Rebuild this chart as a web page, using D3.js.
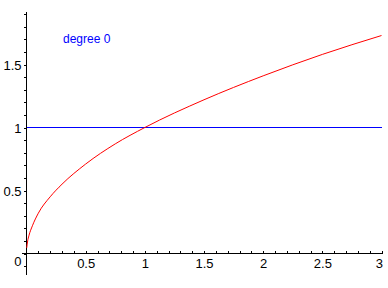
<!DOCTYPE html>
<html>
<head>
<meta charset="utf-8">
<script src="https://cdn.jsdelivr.net/npm/d3@7"></script>
<style>
  body { margin: 0; background: #fff; }
  text { font-family: "Liberation Sans", Arial, sans-serif; }
</style>
</head>
<body>
<div id="chart"></div>
<script>
// values
const curveX = [0.002, 0.01, 0.02, 0.05, 0.1, 0.2, 0.3, 0.5, 0.75, 1, 1.5, 2, 2.5, 3];
const curveY = [0.045, 0.1, 0.14, 0.22, 0.32, 0.45, 0.55, 0.71, 0.87, 1, 1.22, 1.41, 1.58, 1.73];
const constLine = [1, 1];          // degree 0 approximation
const constX = [0, 3];
const xLabels = [0.5, 1, 1.5, 2, 2.5, 3];
const yLabels = [0, 0.5, 1, 1.5];
const xMinor = d3.range(1, 31).map(d => d / 10);
const yMinor = d3.range(-1, 20).map(d => d / 10);

const width = 388;
const height = 288;

const svg = d3.select("#chart")
    .append("svg")
    .attr("width", width)
    .attr("height", height);

const x = d3.scaleLinear().domain([0, 3]).range([26.5, 381.5]);
const y = d3.scaleLinear().domain([0, 1]).range([253.5, 127.5]);

// x axis: ticks pointing up, labels below
const xAxis = svg.append("g")
    .attr("transform", `translate(0,${y(0)})`)
    .attr("shape-rendering", "crispEdges")
    .call(d3.axisTop(x).tickValues(xMinor).tickSize(3).tickSizeOuter(0).tickFormat(""));
xAxis.select(".domain").attr("d", `M${x(-0.04)},0H${x(3)}`);

svg.append("g")
    .attr("transform", `translate(0,${y(0) + 5})`)
    .call(d3.axisBottom(x).tickValues(xLabels).tickSize(0).tickFormat(d3.format("")))
    .call(g => g.select(".domain").remove())
    .call(g => g.selectAll("text")
        .attr("font-size", 13)
        .attr("font-family", "Liberation Sans, Arial, sans-serif")
        .attr("dy", "0.71em")
        .attr("y", 0)
        .attr("text-anchor", d => d === 3 ? "end" : "middle")
        .attr("dx", d => d === 3 ? 1 : 0));

// y axis: ticks pointing left
const yAxis = svg.append("g")
    .attr("transform", `translate(${x(0)},0)`)
    .attr("shape-rendering", "crispEdges")
    .call(d3.axisLeft(y).tickValues(yMinor).tickSize(3).tickSizeOuter(0).tickFormat(""));
yAxis.select(".domain").attr("d", `M0,${y(-0.17)}V${y(1.917)}`);

svg.append("g")
    .attr("transform", `translate(${x(0) - 5},0)`)
    .call(d3.axisLeft(y).tickValues(yLabels).tickSize(0).tickFormat(d3.format("")))
    .call(g => g.select(".domain").remove())
    .call(g => g.selectAll("text")
        .attr("font-size", 13)
        .attr("font-family", "Liberation Sans, Arial, sans-serif")
        .attr("x", 0)
        .attr("dy", d => d === 0 ? "0.95em" : "0.35em"));

svg.selectAll(".tick line").attr("stroke", "#000");
svg.selectAll(".domain").attr("stroke", "#000");

// degree 0 line
svg.append("path")
    .datum(constX.map((d, i) => [d, constLine[i]]))
    .attr("fill", "none")
    .attr("stroke", "#0000ff")
    .attr("stroke-width", 1)
    .attr("shape-rendering", "crispEdges")
    .attr("d", d3.line().x(d => x(d[0])).y(d => y(d[1])));

// sqrt curve
svg.append("path")
    .datum(curveX.map((d, i) => [d, curveY[i]]))
    .attr("fill", "none")
    .attr("stroke", "#ff0000")
    .attr("stroke-width", 1)
    .attr("d", d3.line().curve(d3.curveMonotoneX).x(d => x(d[0])).y(d => y(d[1])));

svg.append("text")
    .attr("x", 63)
    .attr("y", 43)
    .attr("fill", "#0000ff")
    .attr("font-size", 12)
    .text("degree 0");
</script>
</body>
</html>
